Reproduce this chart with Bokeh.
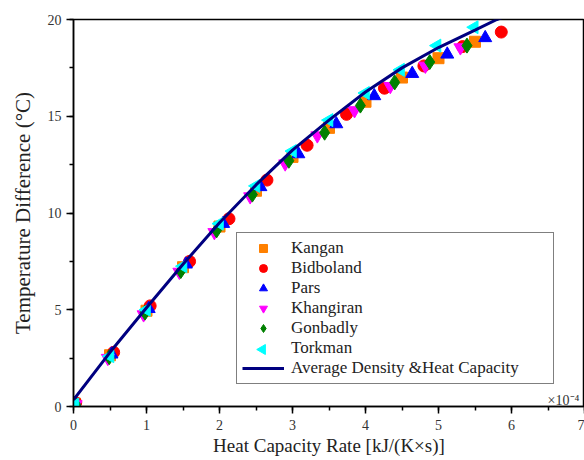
import numpy as np
from bokeh.plotting import figure
from bokeh.models import Range1d, Legend, LegendItem, Label, FixedTicker
from bokeh.embed import file_html
from bokeh.resources import INLINE

# ---- data (x in units of 10^-4 as shown on axis) ----
kangan_x = [0.02, 0.5, 1.0, 1.5, 2.0, 2.5, 3.0, 3.5, 4.0, 4.5, 5.0, 5.5]
kangan_y = [0.15, 2.65, 4.95, 7.2, 9.3, 11.15, 12.9, 14.4, 15.75, 17.0, 18.0, 18.85]

bidboland_x = [0.03, 0.55, 1.05, 1.59, 2.13, 2.65, 3.2, 3.74, 4.26, 4.8, 5.33, 5.86]
bidboland_y = [0.2, 2.8, 5.2, 7.5, 9.7, 11.7, 13.5, 15.1, 16.45, 17.6, 18.6, 19.35]

pars_x = [0.02, 0.52, 1.03, 1.54, 2.05, 2.56, 3.08, 3.6, 4.12, 4.64, 5.12, 5.64]
pars_y = [0.15, 2.7, 5.05, 7.35, 9.45, 11.35, 13.05, 14.6, 16.05, 17.2, 18.2, 19.05]

khangiran_x = [0.03, 0.47, 0.96, 1.45, 1.93, 2.42, 2.9, 3.34, 3.85, 4.34, 4.82, 5.3]
khangiran_y = [0.1, 2.5, 4.75, 6.95, 9.0, 10.85, 12.55, 14.0, 15.3, 16.55, 17.6, 18.55]

gonbadly_x = [0.03, 0.49, 0.98, 1.47, 1.96, 2.45, 2.95, 3.44, 3.93, 4.4, 4.88, 5.39]
gonbadly_y = [0.1, 2.55, 4.85, 7.0, 9.1, 10.95, 12.7, 14.15, 15.55, 16.75, 17.8, 18.65]

torkman_x = [0.02, 0.5, 1.0, 1.5, 2.0, 2.5, 3.0, 3.5, 4.0, 4.48, 4.98, 5.49, 6.05]
torkman_y = [0.1, 2.6, 5.0, 7.25, 9.45, 11.4, 13.2, 14.8, 16.2, 17.4, 18.65, 19.6, 20.45]

avg_x = [0.0, 0.5, 1.0, 1.5, 2.0, 2.5, 3.0, 3.5, 4.0, 4.5, 5.0, 5.5, 5.8, 6.0]
avg_y = [0.35, 2.8, 5.1, 7.35, 9.5, 11.45, 13.25, 14.8, 16.25, 17.5, 18.55, 19.45, 20.0, 20.3]

x_ticks = [0, 1, 2, 3, 4, 5, 6, 7]
y_ticks = [0, 5, 10, 15, 20]

FONT = "Liberation Serif"
W, H = 584, 460
BL, BR, BT, BB = 73, 0, 19, 54
X0, X1, Y0, Y1 = 0, 7, 0, 20

p = figure(width=W, height=H, output_backend="svg", toolbar_location=None,
           x_range=Range1d(X0, X1), y_range=Range1d(Y0, Y1),
           min_border_left=BL, min_border_right=BR, min_border_top=BT, min_border_bottom=BB)
p.grid.visible = False
p.outline_line_color = "black"
p.outline_line_width = 1.5
p.background_fill_color = "white"
p.border_fill_color = "white"

for ax in (p.xaxis[0], p.yaxis[0]):
    ax.axis_line_width = 1.5
    ax.axis_line_color = "black"
    ax.major_tick_line_color = "black"
    ax.minor_tick_line_color = "black"
    ax.major_tick_line_width = 1.5
    ax.minor_tick_line_width = 1.5
    ax.major_tick_in = 0
    ax.major_tick_out = 7
    ax.minor_tick_in = 0
    ax.minor_tick_out = 4
    ax.major_label_text_font = FONT
    ax.major_label_text_font_size = "14px"
    ax.major_label_text_color = "#333333"
    ax.axis_label_text_font = FONT
    ax.axis_label_text_font_style = "normal"
    ax.axis_label_text_color = "#222222"

p.xaxis.ticker = FixedTicker(ticks=x_ticks, minor_ticks=[i * 0.5 for i in range(15)])
p.yaxis.ticker = FixedTicker(ticks=y_ticks, minor_ticks=[i * 2.5 for i in range(9)])
p.xaxis.axis_label = "Heat Capacity Rate [kJ/(K×s)]"
p.yaxis.axis_label = "Temperature Difference (°C)"
p.xaxis.axis_label_text_font_size = "19px"
p.yaxis.axis_label_text_font_size = "21px"
p.xaxis.axis_label_standoff = 2
p.yaxis.axis_label_standoff = 10
p.xaxis.major_label_standoff = 6
p.yaxis.major_label_standoff = 5

S = 12
r1 = p.scatter(kangan_x, kangan_y, marker="square", size=S - 1, color="#FF8000")
r2 = p.scatter(bidboland_x, bidboland_y, marker="circle", size=S, color="#FF0000")
r3 = p.scatter(pars_x, pars_y, marker="triangle", size=S + 1, color="#0000FF")
r4 = p.scatter(khangiran_x, khangiran_y, marker="inverted_triangle", size=S + 1, color="#FF00FF")
r5 = p.scatter(gonbadly_x, gonbadly_y, marker="diamond", size=S + 3, color="#008000")
r6 = p.scatter(torkman_x, torkman_y, marker="triangle", angle=np.pi / 2, size=S + 1, color="#00FFFF")
r7 = p.line(avg_x, avg_y, line_color="#000080", line_width=3)

# legend key for Torkman: Bokeh's legend does not rotate markers, so the
# entry gets an invisible key and the rotated marker is drawn beneath the
# (transparent) legend box at the key position
r6_key = p.scatter(x=[], y=[], marker="triangle", fill_alpha=0, line_alpha=0)

LEG_X, LEG_Y, PAD, ROW, GW = 163, 22, 5, 20, 42
legend = Legend(items=[
    LegendItem(label="Kangan", renderers=[r1]),
    LegendItem(label="Bidboland", renderers=[r2]),
    LegendItem(label="Pars", renderers=[r3]),
    LegendItem(label="Khangiran", renderers=[r4]),
    LegendItem(label="Gonbadly", renderers=[r5]),
    LegendItem(label="Torkman", renderers=[r6_key]),
    LegendItem(label="Average Density &Heat Capacity", renderers=[r7]),
], location=(LEG_X, LEG_Y))
legend.label_text_font = FONT
legend.label_text_font_size = "17px"
legend.label_text_color = "#222222"
legend.border_line_color = "black"
legend.border_line_width = 1.5
legend.padding = PAD
legend.spacing = 0
legend.glyph_width = GW
legend.glyph_height = ROW
legend.label_height = 18
legend.label_width = 257
legend.label_standoff = 7
legend.margin = 0
legend.background_fill_alpha = 0
p.add_layout(legend)

# position of the Torkman key (2nd row from the bottom), converted to data units
frame_w = W - BL - BR
frame_h = H - BT - BB
key_sx = LEG_X + PAD + GW / 2
key_sy = LEG_Y + PAD + ROW + ROW / 2
p.scatter([X0 + key_sx * (X1 - X0) / frame_w], [Y0 + key_sy * (Y1 - Y0) / frame_h],
          marker="triangle", angle=np.pi / 2, size=10, color="#00FFFF")

p.add_layout(Label(x=6.93, y=0.3, text="×10⁻⁴", text_font=FONT, text_font_size="14px",
                   text_align="right", text_baseline="alphabetic", text_color="#333333"))

open("out.html", "w").write(file_html(p, INLINE))
